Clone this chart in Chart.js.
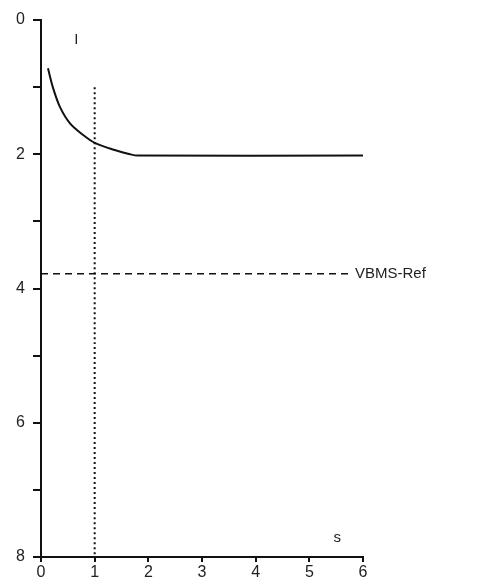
<!DOCTYPE html>
<html>
<head>
<meta charset="utf-8">
<script src="https://cdn.jsdelivr.net/npm/chart.js@4"></script>
<style>
  html, body { margin: 0; padding: 0; background: #fff; }
  #wrap { width: 487px; height: 582px; }
</style>
</head>
<body>
<div id="wrap"><canvas id="myChart"></canvas></div>
<script>
// curve (s, I)
const curveS = [0.13, 0.22, 0.35, 0.54, 0.78, 1.0, 1.34, 1.66, 1.8, 6];
const curveI = [0.72, 1.0, 1.29, 1.54, 1.71, 1.83, 1.93, 2.0, 2.02, 2.02];

// reference lines
const markerS = [1, 1];
const markerI = [1.0, 8];
const refS = [0, 5.75];
const refI = [3.78, 3.78];

const yTicks = [0, 1, 2, 3, 4, 5, 6, 7, 8];
const xTicks = [0, 1, 2, 3, 4, 5, 6];

// text labels in data units
const labels = [
  { text: 'I', x: 0.62, y: 0.3 },
  { text: 's', x: 5.45, y: 7.72 },
  { text: 'VBMS-Ref', x: 5.85, y: 3.78 }
];

function pts(xs, ys) {
  return xs.map((x, i) => ({ x: x, y: ys[i] }));
}

const textPlugin = {
  id: 'textLabels',
  afterDatasetsDraw(chart) {
    const ctx = chart.ctx;
    const xs = chart.scales.x, ys = chart.scales.y;
    ctx.save();
    ctx.fillStyle = '#222';
    ctx.font = '15px "Liberation Sans", Arial, sans-serif';
    ctx.textBaseline = 'middle';
    labels.forEach(l => {
      ctx.textAlign = 'left';
      ctx.fillText(l.text, xs.getPixelForValue(l.x), ys.getPixelForValue(l.y));
    });
    ctx.restore();
  }
};

Chart.defaults.font.family = '"Liberation Sans", Arial, sans-serif';
Chart.defaults.font.size = 16;
Chart.defaults.color = '#222';

new Chart(document.getElementById('myChart'), {
  type: 'scatter',
  data: {
    datasets: [
      { data: pts(curveS, curveI), showLine: true, borderColor: '#111', borderWidth: 2, pointRadius: 0, tension: 0.3 },
      { data: pts(markerS, markerI), showLine: true, borderColor: '#111', borderWidth: 2, borderDash: [2, 3], pointRadius: 0 },
      { data: pts(refS, refI), showLine: true, borderColor: '#111', borderWidth: 1.5, borderDash: [7, 5], pointRadius: 0 }
    ]
  },
  options: {
    responsive: true,
    maintainAspectRatio: false,
    animation: false,
    layout: { padding: { top: 20, right: 124, left: 0, bottom: 0 } },
    plugins: { legend: { display: false }, tooltip: { enabled: false } },
    scales: {
      x: {
        type: 'linear', min: 0, max: 6,
        afterBuildTicks: s => { s.ticks = xTicks.map(v => ({ value: v })); },
        afterFit: s => { s.height = 25; },
        border: { display: true, color: '#111', width: 2 },
        grid: { drawOnChartArea: false, drawTicks: true, tickLength: 5, color: '#111', lineWidth: 2 },
        ticks: { padding: 1, maxRotation: 0 }
      },
      y: {
        type: 'linear', min: 0, max: 8, reverse: true,
        afterBuildTicks: s => { s.ticks = yTicks.map(v => ({ value: v })); },
        afterFit: s => { s.width = 41; },
        border: { display: true, color: '#111', width: 2 },
        grid: { drawOnChartArea: false, drawTicks: true, tickLength: 8, color: '#111', lineWidth: 2 },
        ticks: { padding: 8, callback: v => (v % 2 === 0 ? String(v) : '') }
      }
    }
  },
  plugins: [textPlugin]
});
</script>
</body>
</html>
